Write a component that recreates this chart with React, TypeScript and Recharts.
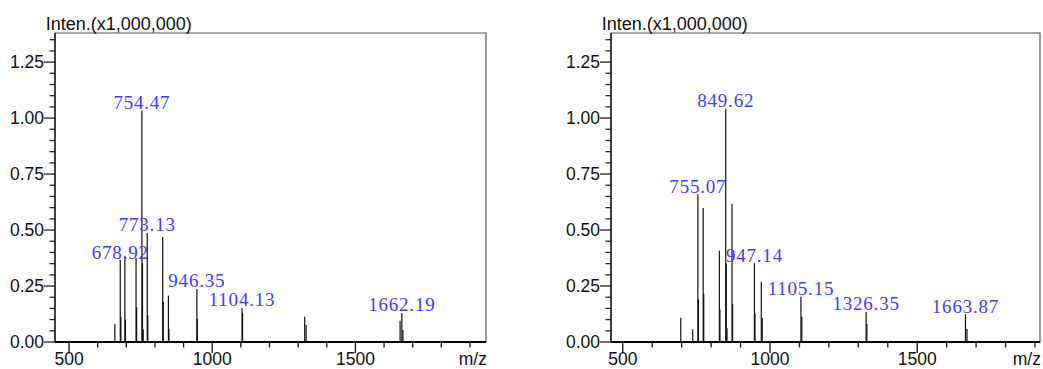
import React from 'react';
import { ComposedChart, XAxis, YAxis, ReferenceLine, ReferenceDot, ReferenceArea } from 'recharts';

// ---- axis ticks ----
const xTicks = [500, 600, 700, 800, 900, 1000, 1100, 1200, 1300, 1400, 1500, 1600, 1700, 1800, 1900];
const xMajorTicks = [500, 1000, 1500];
const yTicks = [0, 0.05, 0.1, 0.15, 0.2, 0.25, 0.3, 0.35, 0.4, 0.45, 0.5, 0.55, 0.6, 0.65, 0.7, 0.75, 0.8, 0.85, 0.9, 0.95, 1.0, 1.05, 1.1, 1.15, 1.2, 1.25, 1.3, 1.35];
const yMajorTicks = [0, 0.25, 0.5, 0.75, 1.0, 1.25];
const yAxisTitle = 'Inten.(x1,000,000)';
const xAxisTitle = 'm/z';

// ---- left spectrum ----
const leftMz = [660, 678.92, 681, 695, 697, 734, 736, 754.47, 756.5, 759, 773.13, 775, 827, 829, 847, 849, 946.35, 948, 1104.13, 1106, 1323, 1328, 1656, 1662.19, 1666];
const leftIntensity = [0.08, 0.366, 0.112, 0.385, 0.1, 0.375, 0.155, 1.033, 0.352, 0.057, 0.487, 0.12, 0.469, 0.18, 0.207, 0.058, 0.237, 0.103, 0.152, 0.13, 0.113, 0.076, 0.095, 0.13, 0.054];
const leftLabels = [678.92, 754.47, 773.13, 946.35, 1104.13, 1662.19];

// ---- right spectrum ----
const rightMz = [697, 737.5, 755.07, 757, 773, 775, 828, 830, 849.62, 851.5, 854, 871, 873, 947.14, 949, 970.5, 973.5, 1105.15, 1108, 1326.35, 1329, 1663.87, 1669];
const rightIntensity = [0.108, 0.057, 0.66, 0.19, 0.598, 0.215, 0.407, 0.145, 1.042, 0.351, 0.061, 0.617, 0.169, 0.352, 0.128, 0.269, 0.107, 0.202, 0.113, 0.134, 0.08, 0.124, 0.058];
const rightLabels = [755.07, 849.62, 947.14, 1105.15, 1326.35, 1663.87];

const SANS = '"Liberation Sans", Arial, sans-serif';
const SERIF = '"Liberation Serif", "Times New Roman", serif';

const XTick = (props: any) => {
  const { x, y, payload } = props;
  const major = xMajorTicks.includes(payload.value);
  return (
    <g>
      <line x1={x} x2={x} y1={y} y2={y + (major ? 11 : 5.5)} stroke="#111" strokeWidth={1.3} />
      {major && (
        <text x={x} y={y + 23} textAnchor="middle" fontSize={17.5} fontFamily={SANS} fill="#111">
          {payload.value}
        </text>
      )}
    </g>
  );
};

const YTick = (props: any) => {
  const { x, y, payload } = props;
  const major = yMajorTicks.some((v) => Math.abs(v - payload.value) < 1e-6);
  return (
    <g>
      <line x1={x - (major ? 11 : 5.5)} x2={x} y1={y} y2={y} stroke="#222" strokeWidth={1.3} />
      {major && (
        <text x={x - 11} y={y} dy="0.355em" textAnchor="end" fontSize={17.5} fontFamily={SANS} fill="#111">
          {payload.value.toFixed(2)}
        </text>
      )}
    </g>
  );
};

type SpecProps = {
  mz: number[];
  intensity: number[];
  labels: number[];
  width: number;
  rightMargin: number;
  domain: [number, number];
};

const Spectrum = ({ mz, intensity, labels, width, rightMargin, domain }: SpecProps) => {
  const yDomain: [number, number] = [0, 1.38];
  return (
    <ComposedChart width={width} height={369} margin={{ top: 33, right: rightMargin, bottom: 0, left: 0 }} data={[]}>
      <ReferenceArea x1={domain[0]} x2={domain[1]} y1={yDomain[0]} y2={yDomain[1]} fill="none" fillOpacity={0} stroke="#555" strokeWidth={1.2} />
      <XAxis
        type="number"
        dataKey="mz"
        domain={domain}
        allowDataOverflow
        ticks={xTicks}
        interval={0}
        tickSize={0}
        tickMargin={0}
        tickLine={false}
        tick={<XTick />}
        height={27}
        axisLine={{ stroke: '#000', strokeWidth: 2 }}
        label={{
          content: (p: any) => (
            <text x={p.viewBox.x + p.viewBox.width + 1} y={p.viewBox.y + 23} textAnchor="end" fontSize={17.5} fontFamily={SANS} fill="#111">
              {xAxisTitle}
            </text>
          ),
        }}
      />
      <YAxis
        type="number"
        domain={yDomain}
        allowDataOverflow
        ticks={yTicks}
        interval={0}
        tickSize={0}
        tickMargin={0}
        tickLine={false}
        tick={<YTick />}
        width={55}
        axisLine={{ stroke: '#222', strokeWidth: 1.5 }}
        label={{
          content: (p: any) => (
            <text x={p.viewBox.x + p.viewBox.width - 9.3} y={p.viewBox.y - 3} textAnchor="start" fontSize={18} fontFamily={SANS} fill="#111">
              {yAxisTitle}
            </text>
          ),
        }}
      />
      {mz.map((m, i) => (
        <ReferenceLine
          key={'p' + i}
          segment={[
            { x: m, y: 0 },
            { x: m, y: intensity[i] },
          ]}
          stroke="#111"
          strokeWidth={1.2}
        />
      ))}
      {labels.map((m) => {
        const idx = mz.indexOf(m);
        return (
          <ReferenceDot
            key={'l' + m}
            x={m}
            y={intensity[idx]}
            r={0}
            fill="none"
            stroke="none"
            label={{
              value: m.toFixed(2),
              position: 'top',
              offset: 1.5,
              fill: '#3c3cff',
              fontSize: 19,
              fontFamily: SERIF,
              letterSpacing: 0.8,
            }}
          />
        );
      })}
    </ComposedChart>
  );
};

export default function App() {
  return (
    <div style={{ position: 'absolute', left: 0, top: 0, width: 1043, height: 369, background: '#fff' }}>
      <div style={{ position: 'absolute', left: 0, top: 0 }}>
        <Spectrum mz={leftMz} intensity={leftIntensity} labels={leftLabels} width={520} rightMargin={34} domain={[451, 1956]} />
      </div>
      <div style={{ position: 'absolute', left: 556, top: 0 }}>
        <Spectrum mz={rightMz} intensity={rightIntensity} labels={rightLabels} width={487} rightMargin={3} domain={[460, 1917]} />
      </div>
    </div>
  );
}
